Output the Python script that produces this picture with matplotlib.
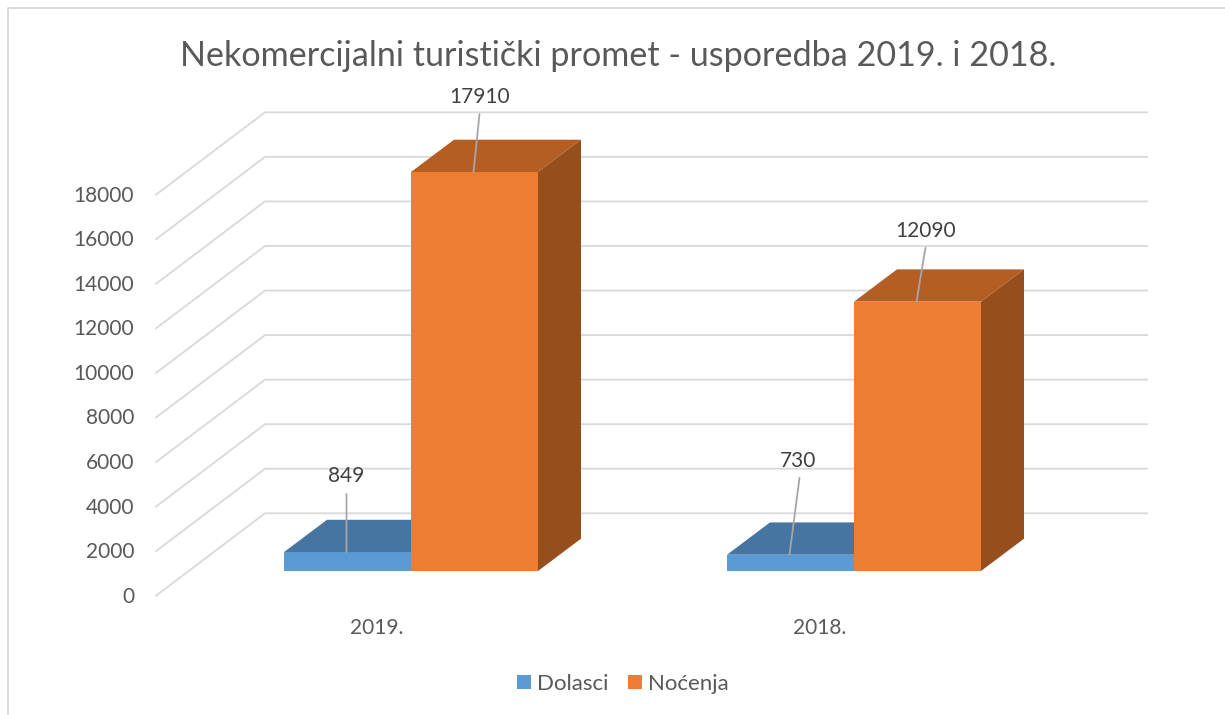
import matplotlib
matplotlib.use('Agg')
import matplotlib.pyplot as plt
from matplotlib.lines import Line2D
from matplotlib.patches import Patch, Polygon

# data
years = ['2019.', '2018.']
dolasci = [849, 730]
nocenja = [17910, 12090]
y_ticks = list(range(0, 20000, 2000))

W, H = 1225, 715
TEXT = '#595959'
GRID = '#d9d9d9'
BLUE = ('#5b9bd5', '#4675a1')
ORANGE = ('#ed7d31', '#b55e23', '#964f1c')

plt.rcParams['font.family'] = ['Lato', 'DejaVu Sans']

# layout in pixels of the original picture
PX_CAT = 443.0     # distance between the two groups
PX_VAL = 401.0 / 18000
X0, Y0 = 411.0, 571.0   # group 0 centre, value 0 on the bar front plane
BAR_W = 127.0 / PX_CAT
DX, DY = 43.0 / PX_CAT, 32.3 / PX_VAL   # bar depth


def fx(px):
    return px / W


def fy(py):
    return 1 - py / H


fig = plt.figure(figsize=(W / 100, H / 100), dpi=100)
ax = fig.add_axes([0, 0, 1, 1])
ax.set_xlim(-X0 / PX_CAT, (W - X0) / PX_CAT)
ax.set_ylim((Y0 - H) / PX_VAL, Y0 / PX_VAL)
ax.axis('off')

# chart frame, only top and left are in the crop
fig.add_artist(Line2D([fx(8), fx(8), 1], [0, fy(7.5), fy(7.5)], color=GRID, lw=1.3))

# wall and floor grid
wall_left_x = (156 + 24.7 * 1.32 - X0) / PX_CAT
front_dx, front_dy = -32.6 / PX_CAT, -24.7 / PX_VAL
back_dx, back_dy = 76.4 / PX_CAT, 57.7 / PX_VAL
grid_right = (1147 - X0) / PX_CAT
for v in y_ticks:
    ax.plot([wall_left_x + front_dx, wall_left_x + back_dx, grid_right],
            [v + front_dy, v + back_dy, v + back_dy],
            color=GRID, lw=1.3, zorder=1, solid_joinstyle='miter')
    ax.annotate(str(v), xy=(wall_left_x + front_dx, v + front_dy), xytext=(-22, -1),
                textcoords='offset pixels', ha='right', va='center',
                fontsize=15, color=TEXT)


def draw_bar(x, w, v, colors, z):
    front, top = colors[0], colors[1]
    ax.add_patch(Polygon([(x, 0), (x + w, 0), (x + w, v), (x, v)],
                         fc=front, ec='none', zorder=z))
    ax.add_patch(Polygon([(x, v), (x + w, v), (x + w + DX, v + DY), (x + DX, v + DY)],
                         fc=top, ec='none', zorder=z))
    if len(colors) > 2:
        ax.add_patch(Polygon([(x + w, 0), (x + w + DX, DY), (x + w + DX, v + DY), (x + w, v)],
                             fc=colors[2], ec='none', zorder=z))


def draw_label(x, v, leader_end, text_pos):
    # offsets in pixels from the middle of the bar's top front edge
    ax.annotate('', xy=(x, v), xytext=leader_end, textcoords='offset pixels',
                xycoords='data', annotation_clip=False, zorder=6,
                arrowprops=dict(arrowstyle='-', color='#a6a6a6', lw=1.3,
                                shrinkA=0, shrinkB=0, relpos=(0.5, 0.5)))
    ax.annotate(str(v), xy=(x, v), xytext=text_pos, textcoords='offset pixels',
                ha='center', va='center', fontsize=15, color='#404040', zorder=7)


label_offsets = [
    ((0, 58), (0, 76), (6, 58), (6, 75)),
    ((10, 77), (9, 94), (9, 54), (9, 71)),
]

for i, year in enumerate(years):
    draw_bar(i - BAR_W, BAR_W, dolasci[i], BLUE, 3 + i)
    draw_bar(i, BAR_W, nocenja[i], ORANGE, 3 + i)
    off = label_offsets[i]
    draw_label(i - BAR_W / 2 - 1 / PX_CAT, dolasci[i], off[0], off[1])
    draw_label(i + BAR_W / 2 - 1 / PX_CAT, nocenja[i], off[2], off[3])
    ax.annotate(year, xy=(i + BAR_W / 2 - 0.25 * BAR_W - 0.16, 0), xytext=(5, -57),
                textcoords='offset pixels', ha='center', va='center',
                fontsize=15, color=TEXT)

fig.text(fx(618), fy(56), 'Nekomercijalni turistički promet - usporedba 2019. i 2018.',
         ha='center', va='center', fontsize=24.6, color=TEXT)

handles = [Patch(fc=BLUE[0], label='Dolasci'), Patch(fc=ORANGE[0], label='Noćenja')]
ax.legend(handles=handles, loc='center', bbox_to_anchor=(fx(623), fy(684)),
          bbox_transform=fig.transFigure, ncol=2, frameon=False, fontsize=16,
          labelcolor=TEXT, handlelength=0.63, handleheight=0.63, handletextpad=0.25,
          columnspacing=0.9, borderpad=0)

fig.savefig('out.png', dpi=100)
